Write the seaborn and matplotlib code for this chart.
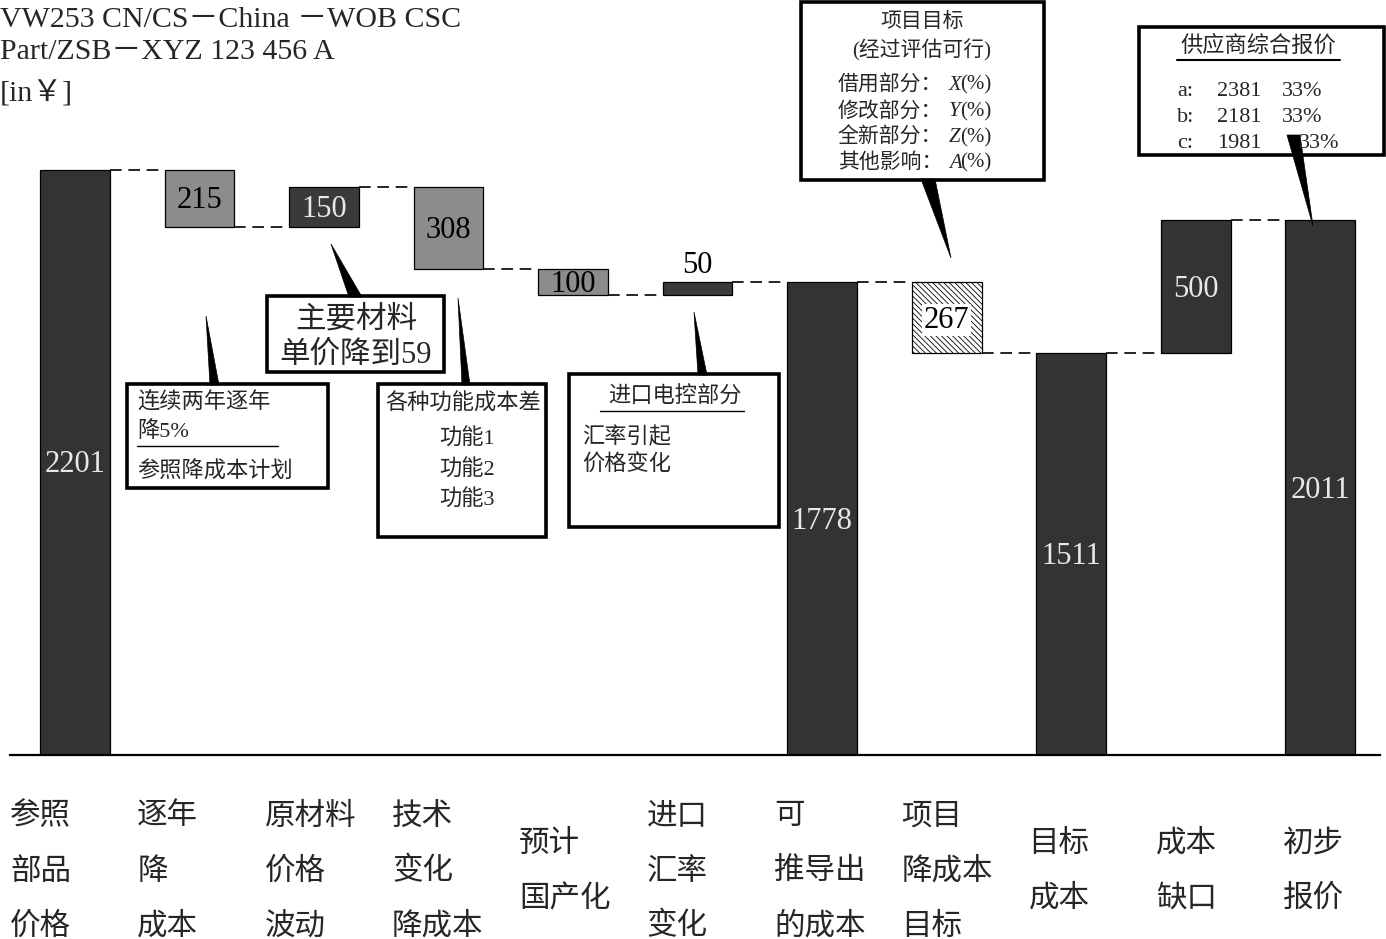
import numpy as np
import matplotlib
matplotlib.use('Agg')
import matplotlib.pyplot as plt
from matplotlib.patches import Rectangle, Polygon
from matplotlib.transforms import blended_transform_factory
import seaborn as sns

# waterfall data
categories = ['参照\n部品\n价格', '逐年\n降\n成本', '原材料\n价格\n波动', '技术\n变化\n降成本',
              '预计\n国产化', '进口\n汇率\n变化', '可\n推导出\n的成本', '项目\n降成本\n目标',
              '目标\n成本', '成本\n缺口', '初步\n报价']
values = [2201, -215, 150, -308, -100, 50, 1778, -267, 1511, 500, 2011]
is_total = [True, False, False, False, False, False, True, False, True, False, True]
bar_colors = ['#333333', '#8c8c8c', '#3a3a3a', '#8c8c8c', '#8c8c8c', '#3a3a3a',
              '#333333', '#ffffff', '#333333', '#333333', '#333333']
text_colors = ['#e8e8e8', 'black', '#e8e8e8', 'black', 'black', 'black',
               '#e8e8e8', 'black', '#e8e8e8', '#e8e8e8', '#e8e8e8']

header_lines = ['VW253 CN/CS－China －WOB CSC', 'Part/ZSB－XYZ 123 456 A', '[in￥]']
quotes = [('a:', '2381', '33%'), ('b:', '2181', '33%'), ('c:', '1981', '33%')]

# running totals
bottoms, heights, ends = [], [], []
level = 0
for v, tot in zip(values, is_total):
    if tot:
        bottoms.append(0)
        heights.append(v)
        level = v
    else:
        new = level + v
        bottoms.append(min(level, new))
        heights.append(abs(v))
        level = new
    ends.append(level)

sns.set_style('white')
plt.rcParams['font.family'] = ['Liberation Serif', 'Noto Sans CJK SC']
plt.rcParams['hatch.linewidth'] = 0.6

W, H = 1386, 939
fig = plt.figure(figsize=(W / 100, H / 100), dpi=100)
ax = fig.add_axes([10 / W, 184 / H, 1370 / W, 755 / H])

bw = 0.56
sns.barplot(x=categories, y=heights, hue=categories, palette=bar_colors, legend=False,
            saturation=1, width=bw, edgecolor='black', linewidth=0.9, ax=ax)
for i, p in enumerate(ax.patches[:len(values)]):
    p.set_y(bottoms[i])
    if i == 7:
        p.set_hatch('\\\\\\\\\\\\')

ax.set_xlim(-0.522, 10.48)
ax.set_ylim(0, 755 / 0.266)
ax.set_xticks([])
ax.set_yticks([])
ax.set_xlabel('')
ax.set_ylabel('')
for s in ['top', 'left', 'right']:
    ax.spines[s].set_visible(False)
ax.spines['bottom'].set_color('black')
ax.spines['bottom'].set_linewidth(1.6)

# dashed connectors
for i in range(len(values) - 1):
    ax.plot([i + bw / 2, i + 1 - bw / 2], [ends[i], ends[i]], color='black',
            lw=1.2, ls=(0, (7, 4)), zorder=3)

# value labels
for i, v in enumerate(values):
    if abs(v) < 80:
        ax.text(i, bottoms[i] + heights[i] + 8, str(abs(v)), ha='center', va='bottom',
                fontsize=22, color='black')
    else:
        bb = None
        if i == 7:
            bb = dict(facecolor='white', edgecolor='none', pad=1)
        ax.text(i, bottoms[i] + heights[i] / 2 - 10, str(abs(v)), ha='center', va='center',
                fontsize=22, color=text_colors[i], bbox=bb)

# category labels below the axis
tr = blended_transform_factory(ax.transData, fig.transFigure)
for i, lab in enumerate(categories):
    lines = lab.split('\n')
    x0 = i + (-65 + 2.8 * i) / 124.5
    n = len(lines)
    for k, ln in enumerate(lines):
        ypx = 872 + (k - (n - 1) / 2) * 55
        ax.text(x0, 1 - ypx / H, ln, transform=tr, ha='left', va='center',
                fontsize=22, clip_on=False)

# overlay in pixel coordinates for notes
ov = fig.add_axes([0, 0, 1, 1])
ov.set_xlim(0, W)
ov.set_ylim(H, 0)
ov.axis('off')
ov.patch.set_alpha(0)

for k, ln in enumerate(header_lines):
    ov.text(0, [20, 52, 94][k], ln, ha='left', va='center', fontsize=21.5)


def box(x0, y0, x1, y1):
    ov.add_patch(Rectangle((x0, y0), x1 - x0, y1 - y0, facecolor='white',
                           edgecolor='black', lw=2.6, zorder=4))


def wedge(pts):
    ov.add_patch(Polygon(pts, closed=True, facecolor='black', edgecolor='black',
                         lw=0.5, zorder=5))


def t(x, y, s, size=16, ha='left', **kw):
    ov.text(x, y + 2, s, ha=ha, va='center', fontsize=size, zorder=6, **kw)


# 逐年降成本
box(127, 384, 328, 488)
wedge([(206, 316), (210, 385), (219, 385)])
t(137, 401, '连续两年逐年')
t(137, 430, '降5%')
ov.plot([137, 278], [446, 446], color='black', lw=1, zorder=6)
t(137, 470, '参照降成本计划')

# 主要材料
box(267, 296, 444, 372)
wedge([(331, 244), (349, 297), (362, 297)])
t(356, 318, '主要材料', size=22, ha='center')
t(356, 353, '单价降到59', size=22, ha='center')

# 各种功能
box(378, 384, 546, 537)
wedge([(458, 298), (462, 385), (470, 385)])
t(463, 402, '各种功能成本差', ha='center')
t(467, 437, '功能1', ha='center')
t(467, 468, '功能2', ha='center')
t(467, 498, '功能3', ha='center')

# 进口电控
box(569, 374, 779, 527)
wedge([(694, 312), (698, 375), (707, 375)])
t(675, 395, '进口电控部分', ha='center')
ov.plot([600, 744], [411, 411], color='black', lw=1, zorder=6)
t(582, 436, '汇率引起')
t(582, 463, '价格变化')

# 项目目标
box(801, 2, 1044, 180)
wedge([(921, 179), (935, 179), (951, 258)])
t(922, 20, '项目目标', size=15, ha='center')
t(922, 48, '(经过评估可行)', size=15, ha='center')
for y, name, letter in [(83, '借用部分：', 'X'), (110, '修改部分：', 'Y'),
                        (136, '全新部分：', 'Z'), (161, '其他影响：', 'A')]:
    t(942, y, name, size=15, ha='right')
    t(949, y, letter, size=15, style='italic')
    t(960, y, '(%)', size=15)

# 供应商综合报价
box(1139, 27, 1384, 155)
t(1258, 44, '供应商综合报价', ha='center')
ov.plot([1177, 1340], [60, 60], color='black', lw=1.5, zorder=6)
for k, (a, b, c) in enumerate(quotes):
    y = [90, 115, 141][k]
    t(1177, y, a)
    t(1217, y, b)
    t(1282 if k < 2 else 1299, y, c)
wedge([(1287, 135), (1300, 135), (1313, 226)])

fig.savefig('out.png', dpi=100)
